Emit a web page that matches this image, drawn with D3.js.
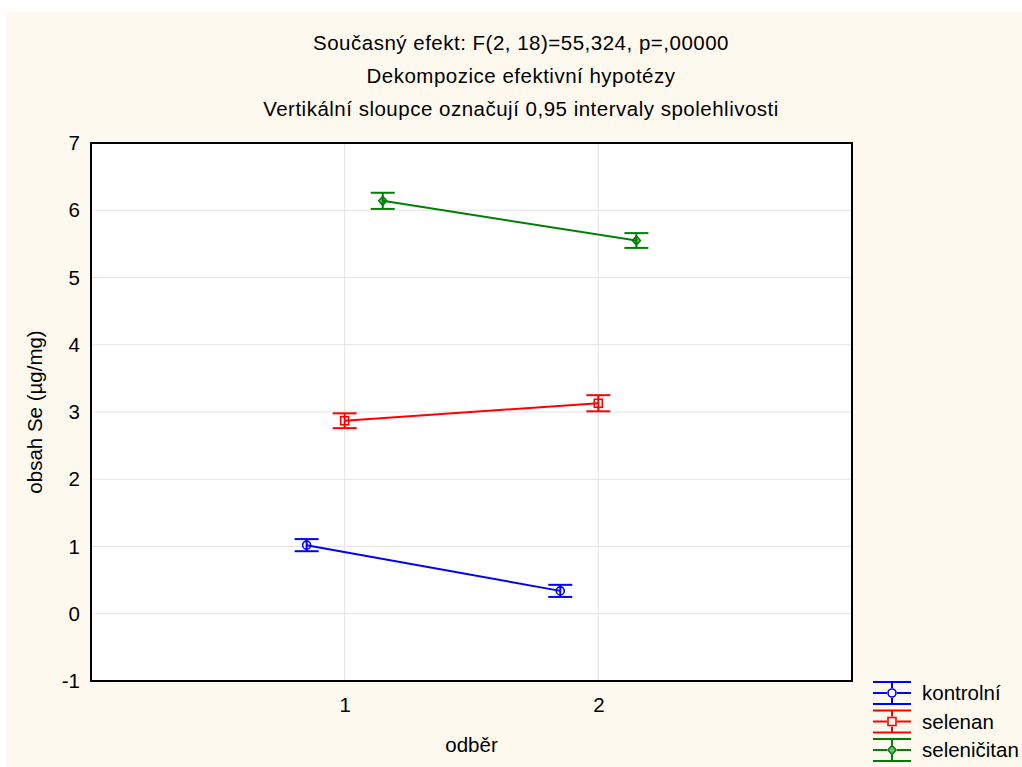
<!DOCTYPE html>
<html>
<head>
<meta charset="utf-8">
<script src="https://cdn.jsdelivr.net/npm/d3@7"></script>
<style>
  body { margin: 0; background: #fff; }
  svg { display: block; font-family: "Liberation Sans", Arial, sans-serif; }
</style>
</head>
<body>
<svg width="1022" height="767"></svg>
<script>
// chart values
const titles     = ["Současný efekt: F(2, 18)=55,324, p=,00000",
                    "Dekompozice efektivní hypotézy",
                    "Vertikální sloupce označují 0,95 intervaly spolehlivosti"];
const odber      = [1, 2];
const groups     = ["kontrolní", "selenan", "seleničitan"];
const kontrolni  = [1.02, 0.34];
const selenan    = [2.87, 3.13];
const selenicitan = [6.14, 5.55];
const ciHalf     = [[0.09, 0.09], [0.11, 0.12], [0.12, 0.11]];
const yTicks     = [-1, 0, 1, 2, 3, 4, 5, 6, 7];

const colors  = ["#0000ff", "#ff0000", "#008000"],
      offsets = [-0.15, 0, 0.15],
      means   = [kontrolni, selenan, selenicitan],
      FS      = 20.5;

let svg = d3.select("svg"),
    plot = {left: 91, top: 143, right: 852, bottom: 681},
    x = d3.scaleLinear().domain([0, 3]).range([plot.left, plot.right]),
    y = d3.scaleLinear().domain([-1, 7]).range([plot.bottom, plot.top]);

// cream page
svg.append("rect").attr("x", 6).attr("y", 12)
  .attr("width", 1016).attr("height", 755).attr("fill", "#fef9ef");

svg.append("rect")
  .attr("x", plot.left).attr("y", plot.top)
  .attr("width", plot.right - plot.left).attr("height", plot.bottom - plot.top)
  .attr("fill", "#fff");

// grid
svg.append("g").selectAll("line").data(yTicks.slice(1, -1)).join("line")
  .attr("x1", plot.left).attr("x2", plot.right)
  .attr("y1", d => y(d)).attr("y2", d => y(d))
  .attr("stroke", "#e3e3e3").attr("stroke-width", 1);
svg.append("g").selectAll("line").data(odber).join("line")
  .attr("y1", plot.top).attr("y2", plot.bottom)
  .attr("x1", d => x(d)).attr("x2", d => x(d))
  .attr("stroke", "#e3e3e3").attr("stroke-width", 1);

// axes (labels only, no tick marks)
let fmt = d => String(d);
let yAxis = svg.append("g")
  .attr("transform", `translate(${plot.left},0)`)
  .call(d3.axisLeft(y).tickValues(yTicks).tickFormat(fmt).tickSize(0).tickPadding(11));
let xAxis = svg.append("g")
  .attr("transform", `translate(0,${plot.bottom})`)
  .call(d3.axisBottom(x).tickValues(odber).tickFormat(fmt).tickSize(0).tickPadding(16));
[yAxis, xAxis].forEach(a => {
  a.select(".domain").remove();
  a.selectAll("text").attr("font-size", FS).attr("fill", "#000")
    .attr("font-family", "Liberation Sans, Arial, sans-serif");
});

svg.append("rect")
  .attr("x", plot.left).attr("y", plot.top)
  .attr("width", plot.right - plot.left).attr("height", plot.bottom - plot.top)
  .attr("fill", "none").attr("stroke", "#000").attr("stroke-width", 2);

// titles
svg.append("g").selectAll("text").data(titles).join("text")
  .attr("x", 521).attr("y", (d, i) => 50 + i * 33)
  .attr("text-anchor", "middle").attr("font-size", FS)
  .attr("letter-spacing", 0.5)
  .text(d => d);

svg.append("text")
  .attr("transform", `translate(42,${(plot.top + plot.bottom) / 2}) rotate(-90)`)
  .attr("text-anchor", "middle").attr("font-size", FS)
  .text("obsah Se (µg/mg)");
svg.append("text")
  .attr("x", (plot.left + plot.right) / 2).attr("y", 752)
  .attr("text-anchor", "middle").attr("font-size", FS)
  .text("odběr");

function drawMarker(g, i, cx, cy) {
  if (i === 0) {
    g.append("circle").attr("cx", cx).attr("cy", cy).attr("r", 4)
      .attr("fill", "none").attr("stroke", colors[i]).attr("stroke-width", 1.6);
  } else if (i === 1) {
    g.append("rect").attr("x", cx - 4).attr("y", cy - 4)
      .attr("width", 8).attr("height", 8)
      .attr("fill", "none").attr("stroke", colors[i]).attr("stroke-width", 1.6);
  } else {
    g.append("path")
      .attr("d", `M${cx},${cy - 4.5}L${cx + 4},${cy}L${cx},${cy + 4.5}L${cx - 4},${cy}Z`)
      .attr("fill", colors[i]).attr("fill-opacity", 0.5)
      .attr("stroke", colors[i]).attr("stroke-width", 1.6);
  }
}

// series
means.forEach((vals, i) => {
  let g = svg.append("g"),
      pts = vals.map((v, j) => [x(odber[j] + offsets[i]), y(v), ciHalf[i][j], v]);
  g.append("path")
    .attr("d", d3.line()(pts.map(p => [p[0], p[1]])))
    .attr("fill", "none").attr("stroke", colors[i]).attr("stroke-width", 2);
  pts.forEach(p => {
    let lo = y(p[3] - p[2]), hi = y(p[3] + p[2]);
    g.append("line").attr("x1", p[0]).attr("x2", p[0]).attr("y1", lo).attr("y2", hi)
      .attr("stroke", colors[i]).attr("stroke-width", 2);
    [lo, hi].forEach(c => g.append("line")
      .attr("x1", p[0] - 12).attr("x2", p[0] + 12).attr("y1", c).attr("y2", c)
      .attr("stroke", colors[i]).attr("stroke-width", 2));
    drawMarker(g, i, p[0], p[1]);
  });
});

// legend
groups.forEach((name, i) => {
  let g = svg.append("g"),
      ly = 693 + i * 28.5, lx = 892;
  [-11, 0, 11].forEach(dy => g.append("line")
    .attr("x1", lx - 19).attr("x2", lx + 19).attr("y1", ly + dy).attr("y2", ly + dy)
    .attr("stroke", colors[i]).attr("stroke-width", 2));
  g.append("line").attr("x1", lx).attr("x2", lx).attr("y1", ly - 11).attr("y2", ly + 11)
    .attr("stroke", colors[i]).attr("stroke-width", 2);
  g.append("rect").attr("x", lx - 5).attr("y", ly - 5).attr("width", 10).attr("height", 10)
    .attr("fill", "#fef9ef");
  drawMarker(g, i, lx, ly);
  g.append("text").attr("x", 922).attr("y", ly + 7)
    .attr("font-size", FS).text(name);
});
</script>
</body>
</html>
